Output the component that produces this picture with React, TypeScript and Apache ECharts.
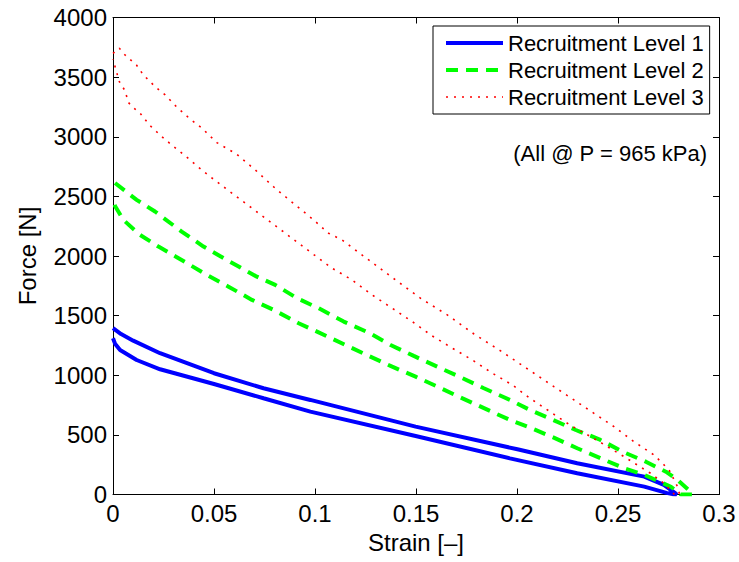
import React, { useEffect, useRef } from 'react';
import * as echarts from 'echarts';

const FONT = '"Liberation Sans", Arial, Helvetica, sans-serif';

const seriesNames = ['Recruitment Level 1', 'Recruitment Level 2', 'Recruitment Level 3'];
const seriesColors = ['#0000ff', '#00ff00', '#ff0000'];
const xTickValues = [0, 0.05, 0.1, 0.15, 0.2, 0.25, 0.3];
const yTickValues = [0, 500, 1000, 1500, 2000, 2500, 3000, 3500, 4000];
const annotation = '(All @ P = 965 kPa)';

// Level 1: upper branch (increasing strain) then lower branch (back to zero strain)
const level1Upper: [number, number][] = [
  [0, 1395], [0.004, 1345], [0.01, 1290], [0.0233, 1185], [0.05, 1017], [0.0745, 891], [0.0977, 793],
  [0.1498, 569], [0.2002, 379], [0.2298, 262], [0.263, 150], [0.2727, 80], [0.2785, 10], [0.279, 0],
];
const level1Lower: [number, number][] = [
  [0.277, 3], [0.274, 14], [0.263, 66], [0.2298, 178], [0.1965, 303], [0.1498, 491], [0.0977, 695],
  [0.0745, 807], [0.05, 927], [0.0233, 1050], [0.0117, 1128], [0.0035, 1212], [0.001, 1265], [0, 1310],
];

const level2Upper: [number, number][] = [
  [0.001, 2612], [0.0117, 2471], [0.0208, 2373], [0.034, 2205], [0.0448, 2079], [0.0563, 1967],
  [0.0712, 1827], [0.0803, 1758], [0.0911, 1646], [0.1018, 1562], [0.1142, 1450], [0.1266, 1357],
  [0.1374, 1254], [0.1489, 1162], [0.1605, 1072], [0.1721, 983], [0.1836, 891], [0.1965, 793],
  [0.2064, 709], [0.2179, 625], [0.2291, 541], [0.2407, 463], [0.2523, 359], [0.2638, 275],
  [0.2737, 191], [0.2795, 122], [0.2861, 20], [0.287, 0],
];
const level2Lower: [number, number][] = [
  [0.281, 0], [0.2762, 65], [0.263, 164], [0.253, 220], [0.2414, 304], [0.2298, 388], [0.219, 471],
  [0.2073, 555], [0.1965, 625], [0.1712, 820], [0.1613, 899], [0.1498, 988], [0.1382, 1072],
  [0.1266, 1162], [0.115, 1254], [0.101, 1366], [0.0919, 1436], [0.0795, 1548], [0.0688, 1632],
  [0.0572, 1743], [0.0465, 1841], [0.0316, 1990], [0.0225, 2079], [0.0134, 2177], [0.0051, 2303],
  [0.001, 2420], [0, 2490],
];

const level3Upper: [number, number][] = [
  [0, 3700], [0.0031, 3743], [0.0059, 3687], [0.0117, 3600], [0.015, 3519], [0.0208, 3421],
  [0.0258, 3351], [0.0316, 3248], [0.0377, 3156], [0.044, 3072], [0.0514, 2951], [0.061, 2857],
  [0.0704, 2722], [0.0808, 2560], [0.0993, 2303], [0.1067, 2191], [0.1133, 2135], [0.1266, 1967],
  [0.1398, 1800], [0.1522, 1646], [0.1655, 1506], [0.1787, 1346], [0.1919, 1204], [0.2084, 1017],
  [0.2183, 904], [0.2282, 793], [0.2381, 681], [0.248, 569], [0.2579, 443], [0.2679, 331],
  [0.2753, 206], [0.2795, 65], [0.2805, 0],
];
const level3Lower: [number, number][] = [
  [0.278, 0], [0.2727, 94], [0.2661, 178], [0.253, 317], [0.2394, 457], [0.2262, 583], [0.2163, 695],
  [0.2064, 807], [0.1977, 919], [0.1878, 1017], [0.1779, 1128], [0.168, 1227], [0.158, 1330],
  [0.1481, 1450], [0.1382, 1562], [0.1282, 1674], [0.1183, 1800], [0.1084, 1898], [0.0985, 2023],
  [0.0563, 2560], [0.0481, 2666], [0.0423, 2745], [0.0362, 2834], [0.029, 2932], [0.0241, 3002],
  [0.0183, 3094], [0.0134, 3198], [0.0104, 3240], [0.0076, 3287], [0.006, 3385], [0.0031, 3463],
  [0.001, 3589], [0, 3650],
];

const seriesData = [
  [...level1Upper, ...level1Lower],
  [...level2Upper, ...level2Lower],
  [...level3Upper, ...level3Lower],
];
const lineStyles = [
  { width: 4, type: 'solid' as any },
  { width: 4, type: [12, 8] as any },
  { width: 1.6, type: [2, 6] as any },
];

const fmt = (v: number) => String(+v.toFixed(2));

export default function App() {
  const ref = useRef<HTMLDivElement>(null);
  useEffect(() => {
    if (!ref.current) return;
    const chart = echarts.init(ref.current, undefined, { renderer: 'svg' });
    const xMin = xTickValues[0];
    const xMax = xTickValues[xTickValues.length - 1];
    const xInt = xTickValues[1] - xTickValues[0];
    const yMin = yTickValues[0];
    const yMax = yTickValues[yTickValues.length - 1];
    const yInt = yTickValues[1] - yTickValues[0];
    const axisLine = { show: true, onZero: false, lineStyle: { color: '#000', width: 1 } };
    const axisTick = { show: true, inside: true, length: 6, lineStyle: { color: '#000', width: 1 } };
    const labelStyle = { fontSize: 24, color: '#000', fontFamily: FONT };
    chart.setOption({
      animation: false,
      backgroundColor: '#fff',
      grid: { left: 113, right: 20, top: 17.5, bottom: 67.5 },
      xAxis: [
        {
          type: 'value', min: xMin, max: xMax, interval: xInt, position: 'bottom',
          axisLine, axisTick, splitLine: { show: false },
          axisLabel: { ...labelStyle, margin: 7, formatter: fmt },
          name: 'Strain [–]', nameLocation: 'middle', nameGap: 36,
          nameTextStyle: { ...labelStyle },
        },
        {
          type: 'value', min: xMin, max: xMax, interval: xInt, position: 'top',
          axisLine, axisTick, splitLine: { show: false }, axisLabel: { show: false },
        },
      ],
      yAxis: [
        {
          type: 'value', min: yMin, max: yMax, interval: yInt, position: 'left',
          axisLine, axisTick, splitLine: { show: false },
          axisLabel: { ...labelStyle, margin: 6, formatter: (v: number) => String(v) },
          name: 'Force [N]', nameLocation: 'middle', nameGap: 74, nameRotate: 90,
          nameTextStyle: { ...labelStyle },
        },
        {
          type: 'value', min: yMin, max: yMax, interval: yInt, position: 'right',
          axisLine, axisTick, splitLine: { show: false }, axisLabel: { show: false },
        },
      ],
      legend: {
        orient: 'vertical', left: 433, top: 26, padding: [6, 6, 6, 11], itemGap: 5,
        itemWidth: 57, itemHeight: 6, backgroundColor: '#fff', borderColor: '#000', borderWidth: 1,
        borderRadius: 0,
        itemStyle: { opacity: 0 },
        lineStyle: { width: 'inherit', type: 'inherit' },
        textStyle: { fontSize: 22, fontFamily: FONT, color: '#000' },
        data: seriesNames,
      },
      graphic: [
        {
          type: 'text', x: 707, y: 153,
          style: { text: annotation, textAlign: 'right', textVerticalAlign: 'middle', fontSize: 22, fontFamily: FONT, fill: '#000' },
        },
      ],
      series: seriesNames.map((name, i) => ({
        name, type: 'line', xAxisIndex: 0, yAxisIndex: 0,
        data: seriesData[i], showSymbol: false, symbol: 'none', smooth: false,
        lineStyle: { color: seriesColors[i], ...lineStyles[i] },
        itemStyle: { color: seriesColors[i] },
      })),
    });
    return () => chart.dispose();
  }, []);
  return <div ref={ref} style={{ position: 'absolute', left: 0, top: 0, width: 739, height: 562 }} />;
}
